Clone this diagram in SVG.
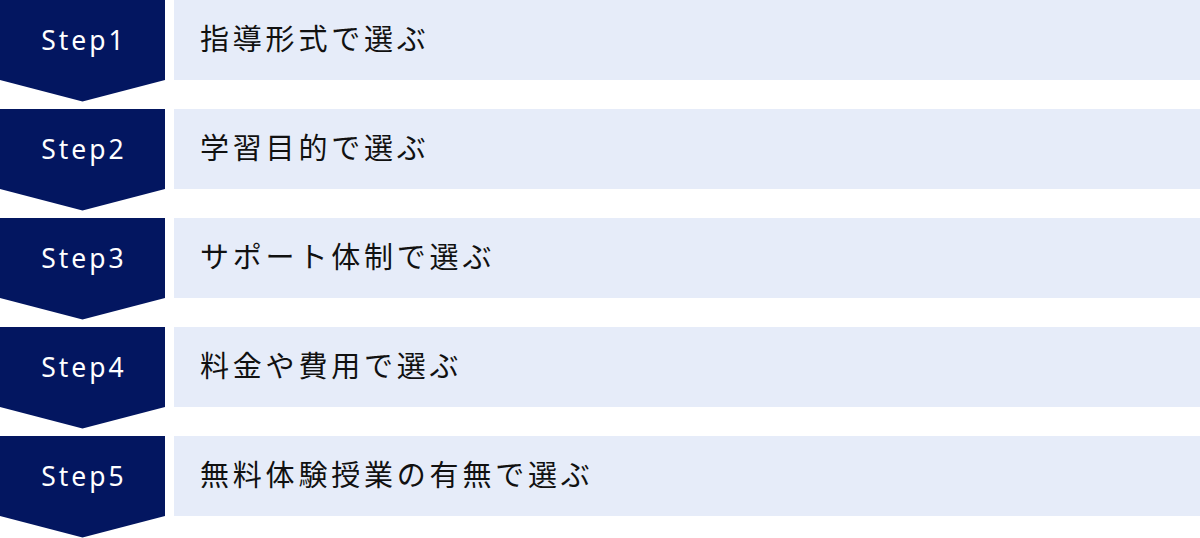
<svg xmlns="http://www.w3.org/2000/svg" width="1200" height="538" viewBox="0 0 1200 538">
<style>
.step{fill:#031660}
.box{fill:#e6ecf9}
.st{font-family:"Noto Sans","Noto Sans CJK JP",sans-serif;font-size:26.5px;fill:#ffffff;letter-spacing:3px;text-anchor:middle}
.lb{font-family:"Noto Sans CJK JP",sans-serif;font-size:29px;fill:#111111;letter-spacing:3.8px}
</style>
<defs>
<polygon id="chev" points="0,0 165,0 165,80 82.5,101.5 0,80"/>
</defs>
<rect width="1200" height="538" fill="#ffffff"/>
<g id="connectors"></g>
<g id="step1" transform="translate(0,0)">
<use href="#chev" class="step"/>
<rect class="box" x="174" y="0" width="1026" height="80"/>
<text class="st" x="84" y="49.5">Step1</text>
<text class="lb" x="200" y="50">指導形式で選ぶ</text>
</g>
<g id="step2" transform="translate(0,109)">
<use href="#chev" class="step"/>
<rect class="box" x="174" y="0" width="1026" height="80"/>
<text class="st" x="84" y="49.5">Step2</text>
<text class="lb" x="200" y="50">学習目的で選ぶ</text>
</g>
<g id="step3" transform="translate(0,218)">
<use href="#chev" class="step"/>
<rect class="box" x="174" y="0" width="1026" height="80"/>
<text class="st" x="84" y="49.5">Step3</text>
<text class="lb" x="200" y="50">サポート体制で選ぶ</text>
</g>
<g id="step4" transform="translate(0,327)">
<use href="#chev" class="step"/>
<rect class="box" x="174" y="0" width="1026" height="80"/>
<text class="st" x="84" y="49.5">Step4</text>
<text class="lb" x="200" y="50">料金や費用で選ぶ</text>
</g>
<g id="step5" transform="translate(0,436)">
<use href="#chev" class="step"/>
<rect class="box" x="174" y="0" width="1026" height="80"/>
<text class="st" x="84" y="49.5">Step5</text>
<text class="lb" x="200" y="50">無料体験授業の有無で選ぶ</text>
</g>
</svg>
